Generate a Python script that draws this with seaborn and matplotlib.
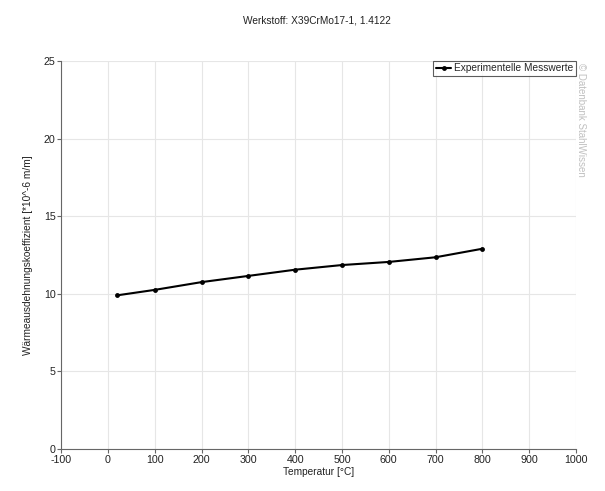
import matplotlib
matplotlib.use("Agg")
import matplotlib.pyplot as plt
import seaborn as sns
import pandas as pd

temperatures = [20, 100, 200, 300, 400, 500, 600, 700, 800]
coefficients = [9.9, 10.25, 10.75, 11.15, 11.55, 11.85, 12.05, 12.35, 12.9]
series_label = "Experimentelle Messwerte"
title = "Werkstoff: X39CrMo17-1, 1.4122"
xlabel = "Temperatur [°C]"
ylabel = "Wärmeausdehnungskoeffizient [*10^-6 m/m]"
watermark = "© Datenbank StahlWissen"
xticks = list(range(-100, 1001, 100))
yticks = [0, 5, 10, 15, 20, 25]

sns.set_theme(style="whitegrid")
plt.rcParams['font.family'] = ['Liberation Sans', 'DejaVu Sans']
plt.rcParams['axes.unicode_minus'] = False

FS = 7.3

df = pd.DataFrame({"T": temperatures, "a": coefficients})

fig = plt.figure(figsize=(6.05, 4.91), dpi=100)
ax = fig.add_axes([0.101, 0.0855, 0.851, 0.7905])

sns.lineplot(data=df, x="T", y="a", ax=ax, color="black", marker="o",
             markersize=3.5, markeredgewidth=0, linewidth=1.5, label=series_label)

ax.set_xlim(-100, 1000)
ax.set_ylim(0, 25)
ax.set_xticks(xticks)
ax.set_yticks(yticks)
ax.tick_params(axis="both", labelsize=FS + 0.4, labelcolor="#222222", length=3,
               width=0.8, pad=1, color="#666666", bottom=True, left=True)
ax.grid(True, color="#e6e6e6", linewidth=0.8)
for s in ["top", "right"]:
    ax.spines[s].set_visible(False)
for s in ["left", "bottom"]:
    ax.spines[s].set_color("#666666")
    ax.spines[s].set_linewidth(0.8)

ax.set_xlabel(xlabel, fontsize=FS, labelpad=2, color="#222222")
ax.set_ylabel(ylabel, fontsize=FS, labelpad=8, color="#222222")

leg = ax.legend(loc="upper right", fontsize=FS, frameon=True, fancybox=False,
                borderpad=0.25, handlelength=1.5, handletextpad=0.3,
                bbox_to_anchor=(1.0, 1.0), borderaxespad=0)
leg.get_frame().set_edgecolor("#333333")
leg.get_frame().set_linewidth(0.8)

fig.text(0.524, 0.959, title, ha="center", va="center", fontsize=FS, color="#222222")
fig.text(0.961, 0.872, watermark, rotation=-90, ha="center", va="top",
         fontsize=7, color="#c0c0c0")

fig.savefig("out.png", dpi=100)
